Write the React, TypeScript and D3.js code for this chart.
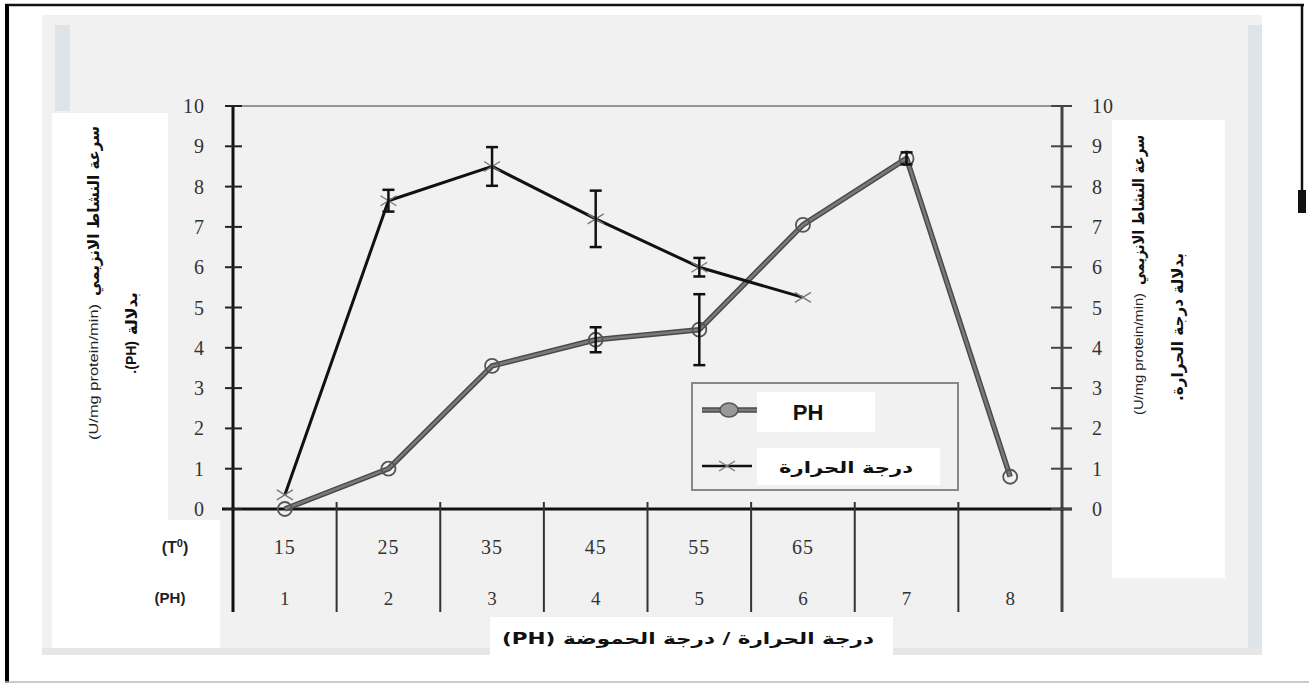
import React from 'react';
import * as d3 from 'd3';

// values
const phLabels = ['1', '2', '3', '4', '5', '6', '7', '8'];
const tempLabels = ['15', '25', '35', '45', '55', '65'];
const phValues = [0, 1.0, 3.55, 4.2, 4.45, 7.05, 8.7, 0.8];
const phErrors = [0, 0, 0, 0.31, 0.88, 0, 0.15, 0];
const tempValues = [0.35, 7.65, 8.5, 7.2, 6.0, 5.25];
const tempErrors = [0, 0.27, 0.48, 0.7, 0.23, 0];
const yTicks = [0, 1, 2, 3, 4, 5, 6, 7, 8, 9, 10];

const W = 1309;
const H = 684;
const serif = '"Liberation Serif", "DejaVu Serif", serif';
const sans = '"Liberation Sans", Arial, sans-serif';
const arabic = '"DejaVu Sans", "Noto Sans", sans-serif';

function Cross({ x, y }: { x: number; y: number }) {
  return (
    <g transform={'translate(' + x + ',' + y + ')'} stroke="#777" strokeWidth={1.3}>
      <line x1={-8} y1={-5} x2={8} y2={5} />
      <line x1={-8} y1={5} x2={8} y2={-5} />
    </g>
  );
}

function ErrorBar({ x, y0, y1 }: { x: number; y0: number; y1: number }) {
  return (
    <g stroke="#111" strokeWidth={2.5}>
      <line x1={x} x2={x} y1={y0} y2={y1} />
      <line x1={x - 6} x2={x + 6} y1={y0} y2={y0} />
      <line x1={x - 6} x2={x + 6} y1={y1} y2={y1} />
    </g>
  );
}

export default function App() {
  const left = 233;
  const right = 1062;
  const top = 106;
  const base = 509;

  const xScale = d3.scaleBand().domain(phLabels).range([left, right]);
  const bw = xScale.bandwidth();
  const cx = (i: number) => (xScale(phLabels[i]) as number) + bw / 2;
  const yScale = d3.scaleLinear().domain([0, 10]).range([base, top]);

  const line = d3
    .line<number>()
    .x((d, i) => cx(i))
    .y((d) => yScale(d));

  const phPath = line(phValues) || '';
  const tempPath = line(tempValues) || '';

  const dividers = phLabels.slice(1).map((c) => xScale(c) as number);

  return (
    <div style={{ position: 'absolute', left: 0, top: 0 }}>
      <svg width={W} height={H} style={{ display: 'block', background: '#fff' }}>
        {/* backdrop panels */}
        <rect x={42} y={15} width={1220} height={640} fill="#f1f1f1" />
        <rect x={55} y={25} width={15} height={86} fill="#dfe3ea" />
        <rect x={1248} y={25} width={14} height={625} fill="#dfe3ea" />
        <rect x={42} y={648} width={1220} height={7} fill="#e6e6e6" />
        <rect x={52} y={113} width={116} height={407} fill="#fff" />
        <rect x={52} y={520} width={168} height={128} fill="#fff" />
        <rect x={1112} y={120} width={113} height={458} fill="#fff" />
        <rect x={490} y={617} width={403} height={44} fill="#fff" />

        {/* outer frame */}
        <line x1={5} x2={1304} y1={5} y2={5} stroke="#111" strokeWidth={2.5} />
        <line x1={7} x2={7} y1={4} y2={683} stroke="#000" strokeWidth={4} />
        <line x1={1302} x2={1302} y1={4} y2={200} stroke="#111" strokeWidth={2.5} />
        <rect x={1298} y={190} width={8} height={23} fill="#111" />
        <line x1={5} x2={1309} y1={682} y2={682} stroke="#bbb" strokeWidth={1.5} />

        {/* plot frame */}
        <line x1={left} x2={right} y1={top} y2={top} stroke="#777" strokeWidth={1.5} />
        <line x1={left} x2={left} y1={top} y2={612} stroke="#111" strokeWidth={3} />
        <line x1={right} x2={right} y1={top} y2={612} stroke="#444" strokeWidth={3} />
        <line x1={222} x2={1072} y1={base} y2={base} stroke="#111" strokeWidth={3} />
        {dividers.map((d, i) => (
          <line key={i} x1={d} x2={d} y1={502} y2={612} stroke="#333" strokeWidth={2} />
        ))}

        {/* y ticks and labels */}
        {yTicks.map((t) => (
          <g key={t}>
            <line x1={left - 8} x2={left + 9} y1={yScale(t)} y2={yScale(t)} stroke="#222" strokeWidth={2} />
            <line x1={right - 11} x2={right + 10} y1={yScale(t)} y2={yScale(t)} stroke="#444" strokeWidth={2} />
            <text x={205} y={yScale(t)} dy="0.35em" textAnchor="end" fontFamily={serif} fontSize={20} fill="#333" letterSpacing={1}>
              {t}
            </text>
            <text x={1092} y={yScale(t)} dy="0.35em" textAnchor="start" fontFamily={serif} fontSize={20} fill="#333" letterSpacing={1}>
              {t}
            </text>
          </g>
        ))}

        {/* category rows */}
        {tempLabels.map((t, i) => (
          <text key={t} x={cx(i)} y={547} dy="0.35em" textAnchor="middle" fontFamily={serif} fontSize={20} fill="#333" letterSpacing={1}>
            {t}
          </text>
        ))}
        {phLabels.map((p, i) => (
          <text key={p} x={cx(i)} y={598} dy="0.35em" textAnchor="middle" fontFamily={serif} fontSize={19} fill="#333">
            {p}
          </text>
        ))}
        <text x={175} y={547} dy="0.35em" textAnchor="middle" fontFamily={sans} fontWeight="bold" fontSize={16} fill="#222">
          (T<tspan dy={-6} fontSize={11}>0</tspan>
          <tspan dy={6}>)</tspan>
        </text>
        <text x={170} y={598} dy="0.35em" textAnchor="middle" fontFamily={sans} fontWeight="bold" fontSize={15} fill="#222">
          (PH)
        </text>

        {/* PH series */}
        <path d={phPath} fill="none" stroke="#4a4a4a" strokeWidth={5.5} strokeLinejoin="round" />
        <path d={phPath} fill="none" stroke="#7a7a7a" strokeWidth={2.5} strokeLinejoin="round" />
        {phValues.map((v, i) => (
          <circle key={i} cx={cx(i)} cy={yScale(v)} r={7} fill="none" stroke="#555" strokeWidth={1.8} />
        ))}
        {phErrors.map((e, i) =>
          e > 0 ? <ErrorBar key={i} x={cx(i)} y0={yScale(phValues[i] + e)} y1={yScale(phValues[i] - e)} /> : null
        )}

        {/* temperature series */}
        <path d={tempPath} fill="none" stroke="#111" strokeWidth={3} strokeLinejoin="round" />
        {tempValues.map((v, i) => (
          <Cross key={i} x={cx(i)} y={yScale(v)} />
        ))}
        {tempErrors.map((e, i) =>
          e > 0 ? <ErrorBar key={i} x={cx(i)} y0={yScale(tempValues[i] + e)} y1={yScale(tempValues[i] - e)} /> : null
        )}

        {/* legend */}
        <rect x={692} y={383} width={266} height={107} fill="#f1f1f1" stroke="#888" strokeWidth={2} />
        <rect x={757} y={392} width={118} height={40} fill="#fff" />
        <rect x={757} y={448} width={183} height={37} fill="#fff" />
        <line x1={702} x2={757} y1={410} y2={410} stroke="#4a4a4a" strokeWidth={5.5} />
        <line x1={702} x2={757} y1={410} y2={410} stroke="#7a7a7a" strokeWidth={2.5} />
        <ellipse cx={729} cy={410} rx={9} ry={7} fill="#999" stroke="#555" strokeWidth={1.5} />
        <line x1={702} x2={752} y1={466} y2={466} stroke="#111" strokeWidth={2.5} />
        <Cross x={727} y={466} />
        <text x={808} y={412} dy="0.35em" textAnchor="middle" fontFamily={sans} fontWeight="bold" fontSize={22} fill="#111">
          PH
        </text>
        <text x={846} y={467} dy="0.35em" textAnchor="middle" direction="rtl" fontFamily={arabic} fontWeight="bold" fontSize={16} fill="#111" textLength={134} lengthAdjust="spacingAndGlyphs">
          درجة الحرارة
        </text>

        {/* x title */}
        <text x={688} y={638} dy="0.35em" textAnchor="middle" direction="rtl" fontFamily={arabic} fontWeight="bold" fontSize={16} fill="#111" textLength={372} lengthAdjust="spacingAndGlyphs">
          درجة الحرارة /  درجة الحموضة (PH)
        </text>

        {/* left y title */}
        <g transform="translate(93,300) rotate(-90)">
          <text x={4} y={0} dy="0.35em" textAnchor="start" fontFamily={arabic} fontWeight="bold" fontSize={16} fill="#111" textLength={170} lengthAdjust="spacingAndGlyphs">
            سرعة النشاط الانزيمي
          </text>
          <text x={-4} y={0} dy="0.35em" textAnchor="end" fontFamily={sans} fontSize={13} fill="#222" textLength={136} lengthAdjust="spacingAndGlyphs">
            (U/mg protein/min)
          </text>
        </g>
        <g transform="translate(131,338) rotate(-90)">
          <text x={3} y={0} dy="0.35em" textAnchor="start" fontFamily={arabic} fontWeight="bold" fontSize={16} fill="#111">
            بدلالة
          </text>
          <text x={-3} y={0} dy="0.35em" textAnchor="end" fontFamily={sans} fontWeight="bold" fontSize={14} fill="#111">
            .(PH)
          </text>
        </g>

        {/* right y title */}
        <g transform="translate(1138,289) rotate(-90)">
          <text x={4} y={0} dy="0.35em" textAnchor="start" fontFamily={arabic} fontWeight="bold" fontSize={16} fill="#111" textLength={150} lengthAdjust="spacingAndGlyphs">
            سرعة النشاط الانزيمي
          </text>
          <text x={-4} y={0} dy="0.35em" textAnchor="end" fontFamily={sans} fontSize={13} fill="#222" textLength={122} lengthAdjust="spacingAndGlyphs">
            (U/mg protein/min)
          </text>
        </g>
        <g transform="translate(1177,327) rotate(-90)">
          <text x={0} y={0} dy="0.35em" textAnchor="middle" direction="rtl" fontFamily={arabic} fontWeight="bold" fontSize={16} fill="#111" textLength={148} lengthAdjust="spacingAndGlyphs">
            بدلالة درجة الحرارة.
          </text>
        </g>
      </svg>
    </div>
  );
}
